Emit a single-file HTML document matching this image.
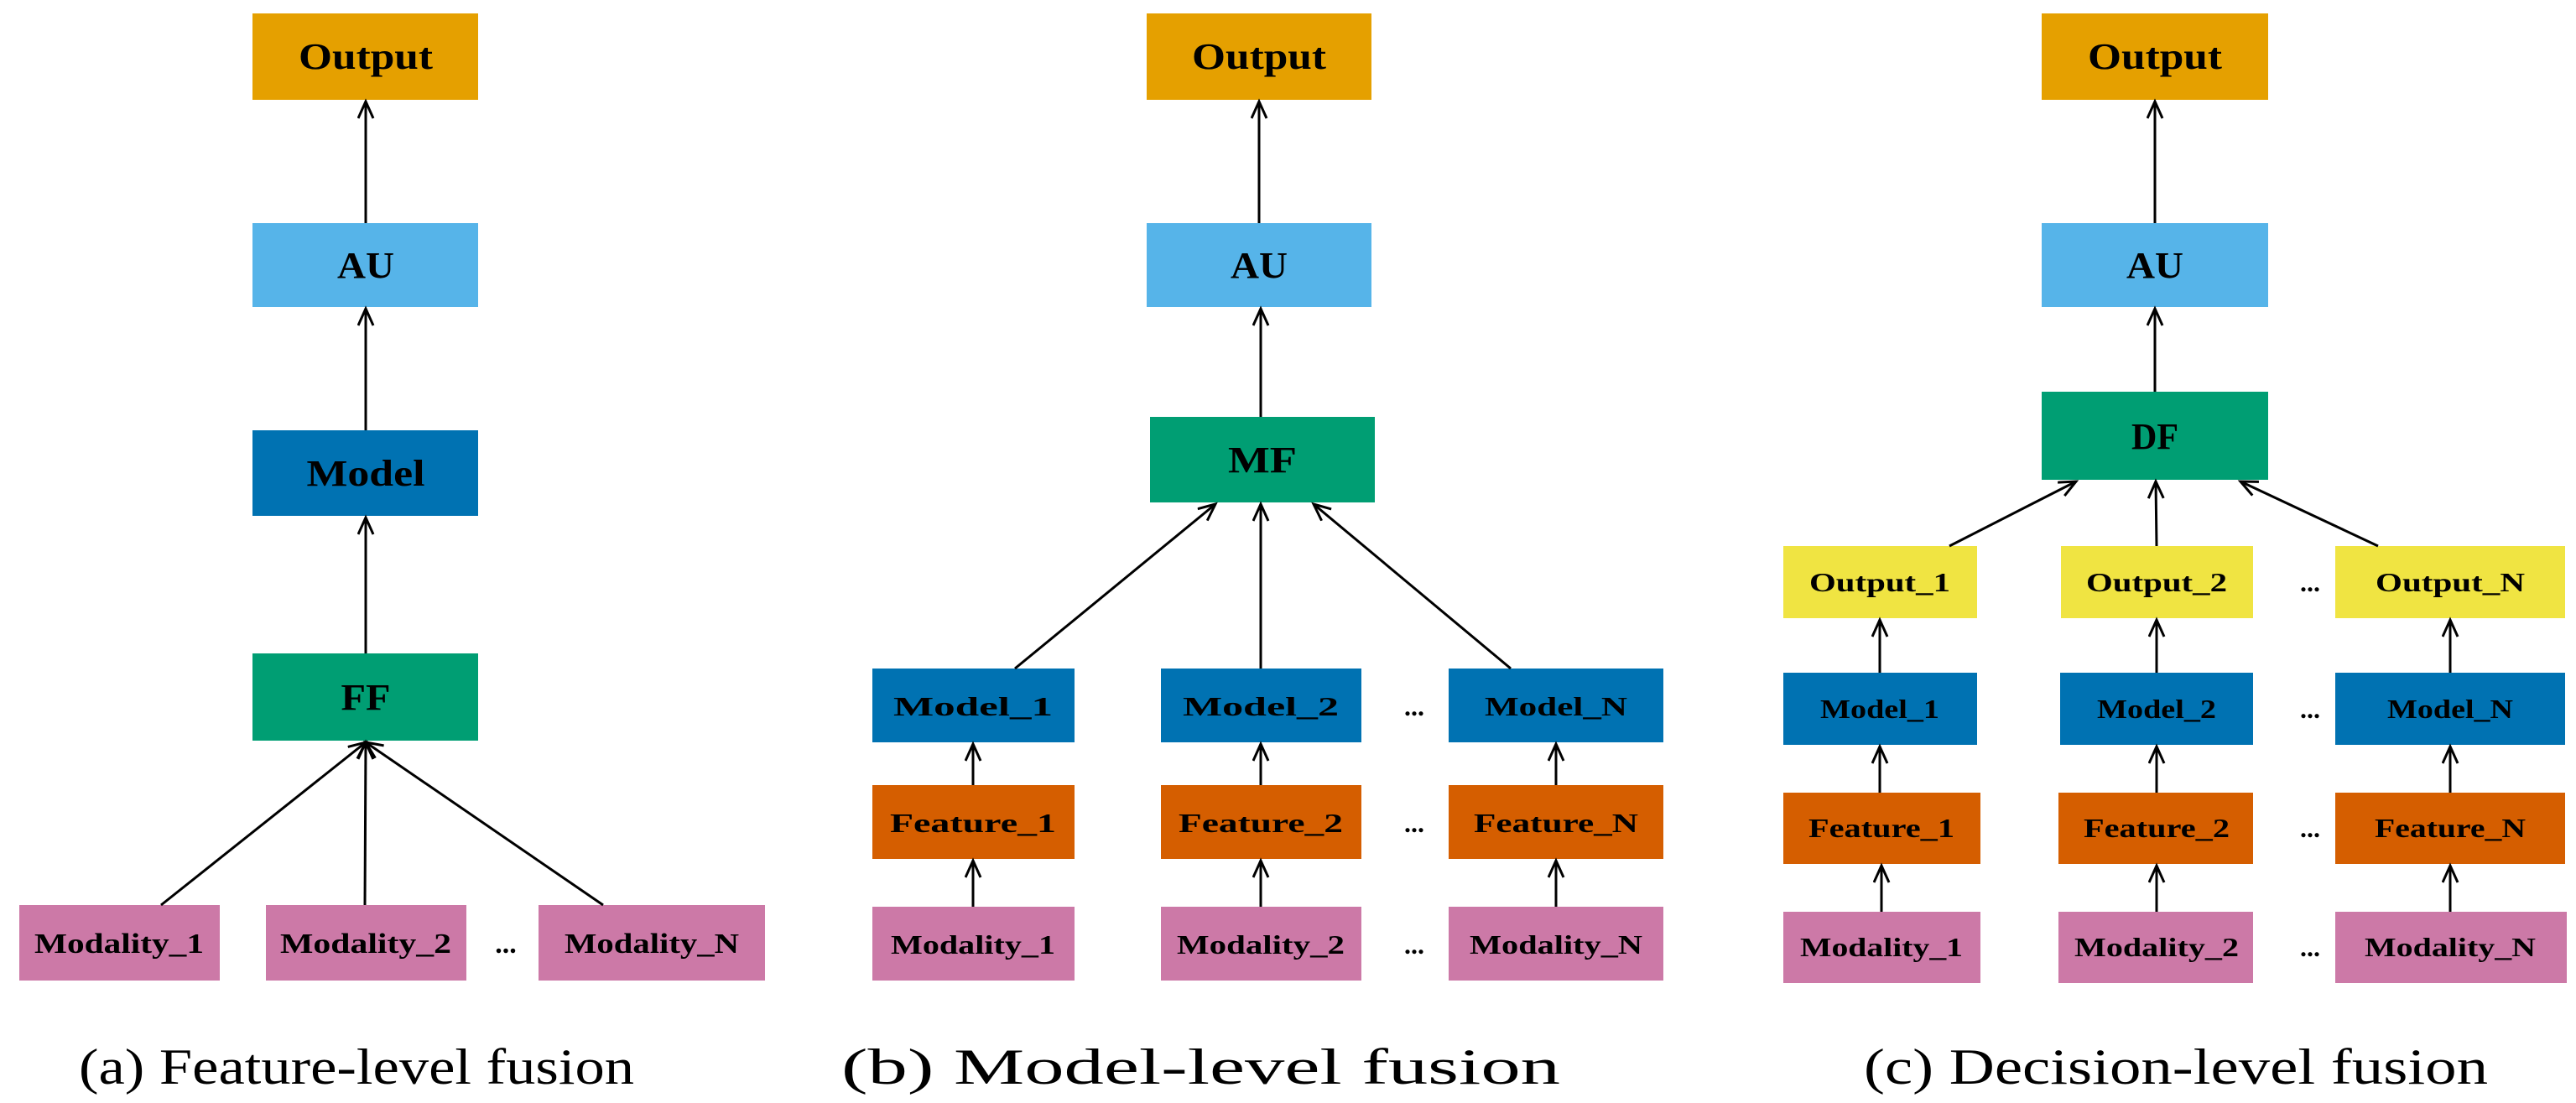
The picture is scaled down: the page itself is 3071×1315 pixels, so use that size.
<!DOCTYPE html>
<html><head><meta charset="utf-8"><style>
html,body{margin:0;padding:0;background:#fff;}
svg{display:block;}
.b{font-family:"Liberation Serif",serif;font-weight:bold;fill:#000;text-anchor:middle;}
.cap{font-family:"Liberation Serif",serif;fill:#000;font-size:60px;}
line{stroke:#000;stroke-width:3;}
</style></head><body>
<svg width="3071" height="1315" viewBox="0 0 3071 1315" xmlns="http://www.w3.org/2000/svg">
<defs>
<marker id="ah" markerUnits="userSpaceOnUse" markerWidth="30" markerHeight="30" refX="22" refY="10" orient="auto">
<path d="M2,1 L22,10 L2,19" fill="none" stroke="#000" stroke-width="3"/>
</marker>
</defs>

<!-- Panel a -->
<rect x="301" y="16" width="269" height="103" fill="#E5A000"/>
<text class="b" x="436" y="82" font-size="44" textLength="160" lengthAdjust="spacingAndGlyphs">Output</text>
<rect x="301" y="266" width="269" height="100" fill="#56B4E9"/>
<text class="b" x="436" y="331" font-size="44" textLength="68" lengthAdjust="spacingAndGlyphs">AU</text>
<rect x="301" y="513" width="269" height="102" fill="#0072B2"/>
<text class="b" x="436" y="579" font-size="44" textLength="141" lengthAdjust="spacingAndGlyphs">Model</text>
<rect x="301" y="779" width="269" height="104" fill="#009E73"/>
<text class="b" x="436" y="846" font-size="44" textLength="59" lengthAdjust="spacingAndGlyphs">FF</text>
<rect x="23" y="1079" width="239" height="90" fill="#CC79A7"/>
<text class="b" x="142" y="1136" font-size="34" textLength="202" lengthAdjust="spacingAndGlyphs">Modality_1</text>
<rect x="317" y="1079" width="239" height="90" fill="#CC79A7"/>
<text class="b" x="436" y="1136" font-size="34" textLength="204" lengthAdjust="spacingAndGlyphs">Modality_2</text>
<rect x="642" y="1079" width="270" height="90" fill="#CC79A7"/>
<text class="b" x="777" y="1136" font-size="34" textLength="208" lengthAdjust="spacingAndGlyphs">Modality_N</text>
<text class="b" x="603" y="1136" font-size="34">...</text>
<line x1="436" y1="266" x2="436" y2="121" marker-end="url(#ah)"/>
<line x1="436" y1="513" x2="436" y2="368" marker-end="url(#ah)"/>
<line x1="436" y1="779" x2="436" y2="617" marker-end="url(#ah)"/>
<line x1="192" y1="1079" x2="436" y2="885" marker-end="url(#ah)"/>
<line x1="435" y1="1079" x2="436" y2="885" marker-end="url(#ah)"/>
<line x1="719" y1="1079" x2="436" y2="885" marker-end="url(#ah)"/>
<text class="cap" x="94" y="1292" textLength="662" lengthAdjust="spacingAndGlyphs">(a) Feature-level fusion</text>

<!-- Panel b -->
<rect x="1367" y="16" width="268" height="103" fill="#E5A000"/>
<text class="b" x="1501" y="82" font-size="44" textLength="160" lengthAdjust="spacingAndGlyphs">Output</text>
<rect x="1367" y="266" width="268" height="100" fill="#56B4E9"/>
<text class="b" x="1501" y="331" font-size="44" textLength="68" lengthAdjust="spacingAndGlyphs">AU</text>
<rect x="1371" y="497" width="268" height="102" fill="#009E73"/>
<text class="b" x="1505" y="563" font-size="44" textLength="82" lengthAdjust="spacingAndGlyphs">MF</text>
<line x1="1501" y1="266" x2="1501" y2="121" marker-end="url(#ah)"/>
<line x1="1503" y1="497" x2="1503" y2="368" marker-end="url(#ah)"/>

<rect x="1040" y="797" width="241" height="88" fill="#0072B2"/>
<text class="b" x="1160" y="853" font-size="32" textLength="190" lengthAdjust="spacingAndGlyphs">Model_1</text>
<rect x="1384" y="797" width="239" height="88" fill="#0072B2"/>
<text class="b" x="1503" y="853" font-size="32" textLength="186" lengthAdjust="spacingAndGlyphs">Model_2</text>
<rect x="1727" y="797" width="256" height="88" fill="#0072B2"/>
<text class="b" x="1855" y="853" font-size="32" textLength="170" lengthAdjust="spacingAndGlyphs">Model_N</text>

<rect x="1040" y="936" width="241" height="88" fill="#D55E00"/>
<text class="b" x="1160" y="992" font-size="32" textLength="198" lengthAdjust="spacingAndGlyphs">Feature_1</text>
<rect x="1384" y="936" width="239" height="88" fill="#D55E00"/>
<text class="b" x="1503" y="992" font-size="32" textLength="196" lengthAdjust="spacingAndGlyphs">Feature_2</text>
<rect x="1727" y="936" width="256" height="88" fill="#D55E00"/>
<text class="b" x="1855" y="992" font-size="32" textLength="196" lengthAdjust="spacingAndGlyphs">Feature_N</text>

<rect x="1040" y="1081" width="241" height="88" fill="#CC79A7"/>
<text class="b" x="1160" y="1137" font-size="32" textLength="196" lengthAdjust="spacingAndGlyphs">Modality_1</text>
<rect x="1384" y="1081" width="239" height="88" fill="#CC79A7"/>
<text class="b" x="1503" y="1137" font-size="32" textLength="200" lengthAdjust="spacingAndGlyphs">Modality_2</text>
<rect x="1727" y="1081" width="256" height="88" fill="#CC79A7"/>
<text class="b" x="1855" y="1137" font-size="32" textLength="206" lengthAdjust="spacingAndGlyphs">Modality_N</text>

<text class="b" x="1686" y="853" font-size="32">...</text>
<text class="b" x="1686" y="992" font-size="32">...</text>
<text class="b" x="1686" y="1137" font-size="32">...</text>

<line x1="1160" y1="936" x2="1160" y2="887" marker-end="url(#ah)"/>
<line x1="1503" y1="936" x2="1503" y2="887" marker-end="url(#ah)"/>
<line x1="1855" y1="936" x2="1855" y2="887" marker-end="url(#ah)"/>
<line x1="1160" y1="1081" x2="1160" y2="1026" marker-end="url(#ah)"/>
<line x1="1503" y1="1081" x2="1503" y2="1026" marker-end="url(#ah)"/>
<line x1="1855" y1="1081" x2="1855" y2="1026" marker-end="url(#ah)"/>
<line x1="1210" y1="797" x2="1449" y2="601" marker-end="url(#ah)"/>
<line x1="1503" y1="797" x2="1503" y2="601" marker-end="url(#ah)"/>
<line x1="1801" y1="797" x2="1566" y2="601" marker-end="url(#ah)"/>
<text class="cap" x="1003" y="1292" textLength="857" lengthAdjust="spacingAndGlyphs">(b) Model-level fusion</text>

<!-- Panel c -->
<rect x="2434" y="16" width="270" height="103" fill="#E5A000"/>
<text class="b" x="2569" y="82" font-size="44" textLength="160" lengthAdjust="spacingAndGlyphs">Output</text>
<rect x="2434" y="266" width="270" height="100" fill="#56B4E9"/>
<text class="b" x="2569" y="331" font-size="44" textLength="68" lengthAdjust="spacingAndGlyphs">AU</text>
<rect x="2434" y="467" width="270" height="105" fill="#009E73"/>
<text class="b" x="2569" y="535" font-size="44" textLength="56" lengthAdjust="spacingAndGlyphs">DF</text>
<line x1="2569" y1="266" x2="2569" y2="121" marker-end="url(#ah)"/>
<line x1="2569" y1="467" x2="2569" y2="368" marker-end="url(#ah)"/>

<rect x="2126" y="651" width="231" height="86" fill="#F0E442"/>
<text class="b" x="2241" y="705" font-size="32" textLength="168" lengthAdjust="spacingAndGlyphs">Output_1</text>
<rect x="2457" y="651" width="229" height="86" fill="#F0E442"/>
<text class="b" x="2571" y="705" font-size="32" textLength="168" lengthAdjust="spacingAndGlyphs">Output_2</text>
<rect x="2784" y="651" width="274" height="86" fill="#F0E442"/>
<text class="b" x="2921" y="705" font-size="32" textLength="178" lengthAdjust="spacingAndGlyphs">Output_N</text>

<rect x="2126" y="802" width="231" height="86" fill="#0072B2"/>
<text class="b" x="2241" y="856" font-size="32" textLength="142" lengthAdjust="spacingAndGlyphs">Model_1</text>
<rect x="2456" y="802" width="230" height="86" fill="#0072B2"/>
<text class="b" x="2571" y="856" font-size="32" textLength="142" lengthAdjust="spacingAndGlyphs">Model_2</text>
<rect x="2784" y="802" width="274" height="86" fill="#0072B2"/>
<text class="b" x="2921" y="856" font-size="32" textLength="150" lengthAdjust="spacingAndGlyphs">Model_N</text>

<rect x="2126" y="945" width="235" height="85" fill="#D55E00"/>
<text class="b" x="2243" y="998" font-size="32" textLength="174" lengthAdjust="spacingAndGlyphs">Feature_1</text>
<rect x="2454" y="945" width="232" height="85" fill="#D55E00"/>
<text class="b" x="2571" y="998" font-size="32" textLength="174" lengthAdjust="spacingAndGlyphs">Feature_2</text>
<rect x="2784" y="945" width="274" height="85" fill="#D55E00"/>
<text class="b" x="2921" y="998" font-size="32" textLength="180" lengthAdjust="spacingAndGlyphs">Feature_N</text>

<rect x="2126" y="1087" width="235" height="85" fill="#CC79A7"/>
<text class="b" x="2243" y="1140" font-size="32" textLength="194" lengthAdjust="spacingAndGlyphs">Modality_1</text>
<rect x="2454" y="1087" width="232" height="85" fill="#CC79A7"/>
<text class="b" x="2571" y="1140" font-size="32" textLength="196" lengthAdjust="spacingAndGlyphs">Modality_2</text>
<rect x="2784" y="1087" width="276" height="85" fill="#CC79A7"/>
<text class="b" x="2921" y="1140" font-size="32" textLength="204" lengthAdjust="spacingAndGlyphs">Modality_N</text>

<text class="b" x="2754" y="705" font-size="32">...</text>
<text class="b" x="2754" y="856" font-size="32">...</text>
<text class="b" x="2754" y="998" font-size="32">...</text>
<text class="b" x="2754" y="1140" font-size="32">...</text>

<line x1="2241" y1="802" x2="2241" y2="739" marker-end="url(#ah)"/>
<line x1="2571" y1="802" x2="2571" y2="739" marker-end="url(#ah)"/>
<line x1="2921" y1="802" x2="2921" y2="739" marker-end="url(#ah)"/>
<line x1="2241" y1="945" x2="2241" y2="890" marker-end="url(#ah)"/>
<line x1="2571" y1="945" x2="2571" y2="890" marker-end="url(#ah)"/>
<line x1="2921" y1="945" x2="2921" y2="890" marker-end="url(#ah)"/>
<line x1="2243" y1="1087" x2="2243" y2="1032" marker-end="url(#ah)"/>
<line x1="2571" y1="1087" x2="2571" y2="1032" marker-end="url(#ah)"/>
<line x1="2921" y1="1087" x2="2921" y2="1032" marker-end="url(#ah)"/>
<line x1="2324" y1="651" x2="2475" y2="574" marker-end="url(#ah)"/>
<line x1="2571" y1="651" x2="2570" y2="574" marker-end="url(#ah)"/>
<line x1="2835" y1="651" x2="2671" y2="574" marker-end="url(#ah)"/>
<text class="cap" x="2222" y="1292" textLength="744" lengthAdjust="spacingAndGlyphs">(c) Decision-level fusion</text>
</svg>
</body></html>
